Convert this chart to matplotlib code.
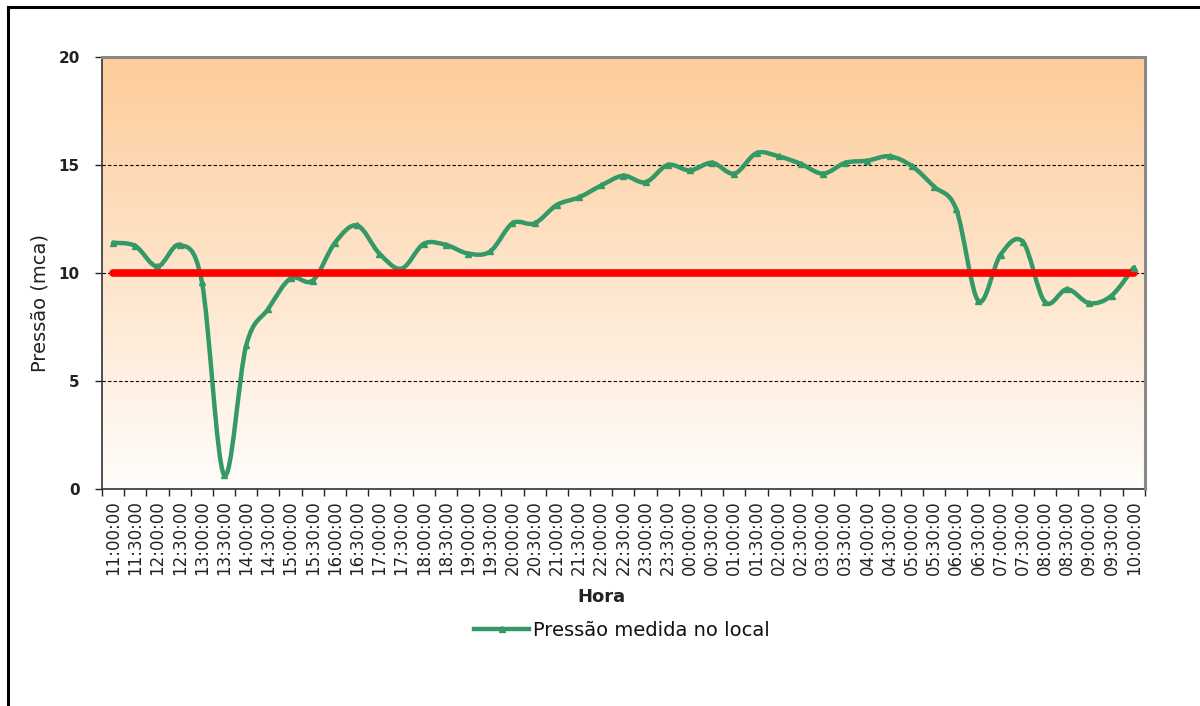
import numpy as np
import matplotlib
matplotlib.use("Agg")
import matplotlib.pyplot as plt
from matplotlib.path import Path
from matplotlib.patches import PathPatch
from matplotlib.lines import Line2D
from matplotlib.colors import LinearSegmentedColormap


# Data
horas = ["11:00:00", "11:30:00", "12:00:00", "12:30:00", "13:00:00", "13:30:00",
         "14:00:00", "14:30:00", "15:00:00", "15:30:00", "16:00:00", "16:30:00",
         "17:00:00", "17:30:00", "18:00:00", "18:30:00", "19:00:00", "19:30:00",
         "20:00:00", "20:30:00", "21:00:00", "21:30:00", "22:00:00", "22:30:00",
         "23:00:00", "23:30:00", "00:00:00", "00:30:00", "01:00:00", "01:30:00",
         "02:00:00", "02:30:00", "03:00:00", "03:30:00", "04:00:00", "04:30:00",
         "05:00:00", "05:30:00", "06:00:00", "06:30:00", "07:00:00", "07:30:00",
         "08:00:00", "08:30:00", "09:00:00", "09:30:00", "10:00:00"]

pressao = [11.4, 11.25, 10.3, 11.3, 9.6, 0.65, 6.65, 8.35, 9.75, 9.65,
           11.4, 12.2, 10.9, 10.2, 11.35, 11.3, 10.9, 11.0, 12.3, 12.3,
           13.15, 13.5, 14.05, 14.5, 14.2, 15.0, 14.75, 15.1, 14.6, 15.55,
           15.4, 15.05, 14.6, 15.1, 15.2, 15.4, 14.95, 14.0, 12.95, 8.7,
           10.85, 11.45, 8.65, 9.25, 8.6, 8.95, 10.25]

pressao_minima = [10.0] * len(horas)

VERDE = "#339966"
VERMELHO = "#ff0000"


def smooth_path(x, y):
    # bezier smoothing like Excel's "smoothed line"
    pts = np.column_stack([x, y]).astype(float)
    n = len(pts)
    verts = [pts[0]]
    codes = [Path.MOVETO]
    for i in range(n - 1):
        p0 = pts[max(i - 1, 0)]
        p1 = pts[i]
        p2 = pts[i + 1]
        p3 = pts[min(i + 2, n - 1)]
        verts += [p1 + (p2 - p0) / 6, p2 - (p3 - p1) / 6, p2]
        codes += [Path.CURVE4] * 3
    return Path(verts, codes)


fig = plt.figure(figsize=(12, 7.06), dpi=100)
ax = fig.add_axes([0.085, 0.3074, 0.869, 0.6119])

x = np.arange(len(horas))

# gradient background of the plot area
cmap = LinearSegmentedColormap.from_list("bg", ["#fffdfb", "#fdcc9a"])
grad = np.linspace(0, 1, 256).reshape(-1, 1)
ax.imshow(grad, extent=[-0.5, len(horas) - 0.5, 0, 20], origin="lower",
          aspect="auto", cmap=cmap, zorder=0)

# pressure curve
ax.add_patch(PathPatch(smooth_path(x, pressao), facecolor="none", edgecolor=VERDE,
                       lw=3.2, capstyle="round", joinstyle="round", zorder=3))
ax.plot(x, pressao, ls="none", marker="^", ms=5, color=VERDE, zorder=3)

# reference line 10 mca
ax.plot(x, pressao_minima, color=VERMELHO, lw=5.5, solid_capstyle="round", zorder=4)
ax.plot(x[-1], pressao[-1], ls="none", marker="^", ms=5, color=VERDE, zorder=5)

ax.set_xlim(-0.5, len(horas) - 0.5)
ax.set_ylim(0, 20)

ax.set_yticks([0, 5, 10, 15, 20])
ax.set_yticklabels(["0", "5", "10", "15", "20"], fontsize=11, fontweight="bold")
ax.tick_params(axis="y", length=5, width=1, direction="out", pad=11, colors="#222222")

ax.set_xticks(x)
ax.set_xticklabels(horas, rotation=90, fontsize=12)
ax.set_xticks(np.arange(-0.5, len(horas), 1), minor=True)
ax.tick_params(axis="x", which="major", length=0, pad=8, colors="#222222")
ax.tick_params(axis="x", which="minor", length=5, width=1, direction="out", color="#222222")

ax.set_axisbelow(True)
ax.grid(axis="y", color="black", ls=(0, (3, 2)), lw=0.8)
ax.grid(axis="x", visible=False)

for s in ["left", "bottom"]:
    ax.spines[s].set_color("#333333")
    ax.spines[s].set_linewidth(1.2)
for s in ["top", "right"]:
    ax.spines[s].set_color("#888888")
    ax.spines[s].set_linewidth(2.2)
    ax.spines[s].set_zorder(6)

fig.text(40 / 1200, 1 - 303 / 706, "Pressão (mca)", rotation=90,
         ha="center", va="center", fontsize=14, color="#222222")
fig.text(601 / 1200, 1 - 597 / 706, "Hora", ha="center", va="center",
         fontsize=13, fontweight="bold", color="#222222")

handle = Line2D([], [], color=VERDE, lw=3.2, marker="^", ms=5)
fig.legend([handle], ["Pressão medida no local"], loc="center",
           bbox_to_anchor=(622 / 1200, 1 - 630 / 706), frameon=False,
           fontsize=14, handlelength=2.8, handletextpad=0.2,
           labelcolor="#111111")

# outer frame (only top and left visible)
fig.add_artist(Line2D([8 / 1200, 1], [1 - 7 / 706, 1 - 7 / 706], color="black", lw=2.2))
fig.add_artist(Line2D([8 / 1200, 8 / 1200], [0, 1 - 7 / 706], color="black", lw=2.2))

fig.savefig("out.png", dpi=100)
